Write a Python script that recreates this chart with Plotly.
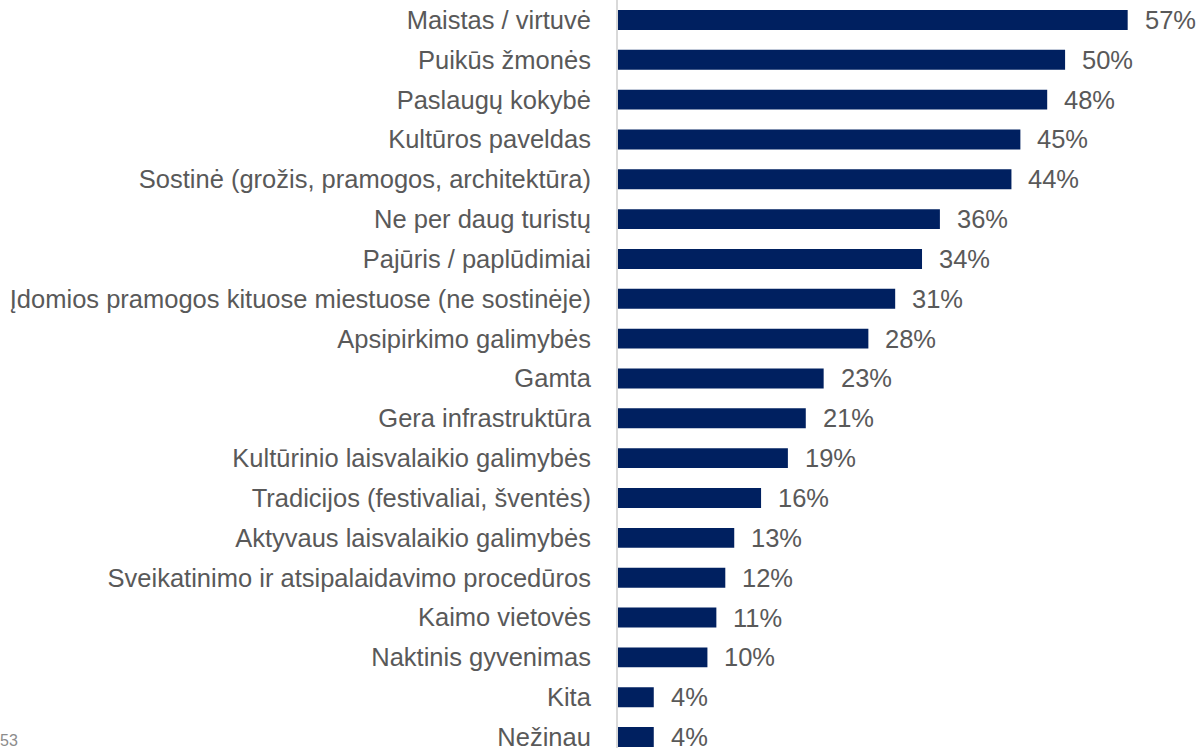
import plotly.graph_objects as go

categories = [
    "Maistas / virtuvė",
    "Puikūs žmonės",
    "Paslaugų kokybė",
    "Kultūros paveldas",
    "Sostinė (grožis, pramogos, architektūra)",
    "Ne per daug turistų",
    "Pajūris / paplūdimiai",
    "Įdomios pramogos kituose miestuose (ne sostinėje)",
    "Apsipirkimo galimybės",
    "Gamta",
    "Gera infrastruktūra",
    "Kultūrinio laisvalaikio galimybės",
    "Tradicijos (festivaliai, šventės)",
    "Aktyvaus laisvalaikio galimybės",
    "Sveikatinimo ir atsipalaidavimo procedūros",
    "Kaimo vietovės",
    "Naktinis gyvenimas",
    "Kita",
    "Nežinau",
]
values = [57, 50, 48, 45, 44, 36, 34, 31, 28, 23, 21, 19, 16, 13, 12, 11, 10, 4, 4]
page_number = "53"

BAR = "#002060"
TEXT = "#595959"
FONT = "Liberation Sans, Arial, sans-serif"
SIZE = 25.5

fig = go.Figure(
    go.Bar(
        x=values,
        y=categories,
        orientation="h",
        marker=dict(color=BAR, line=dict(width=0)),
        width=0.5,
        hoverinfo="skip",
    )
)

# value labels just past the end of each bar
for cat, v in zip(categories, values):
    fig.add_annotation(
        x=v, y=cat, text=f"{v}%", showarrow=False,
        xanchor="left", yanchor="middle", xshift=15,
        font=dict(family=FONT, size=SIZE, color=TEXT),
    )

# page number in the bottom-left corner
fig.add_annotation(
    x=0, y=0, xref="paper", yref="paper", text=page_number, showarrow=False,
    xanchor="left", yanchor="bottom", xshift=-620, yshift=-3,
    font=dict(family=FONT, size=16, color="#8c8c8c"),
)

fig.update_layout(
    width=1201, height=751,
    margin=dict(l=618, r=0, t=0, b=0),
    paper_bgcolor="white", plot_bgcolor="white",
    showlegend=False,
    font=dict(family=FONT, size=SIZE, color=TEXT),
    xaxis=dict(range=[0, 65.2], visible=False),
    yaxis=dict(
        type="category",
        range=[18.275, -0.5],
        showline=True, linecolor="#d9d9d9", linewidth=2,
        ticks="", showgrid=False, zeroline=False,
        tickfont=dict(family=FONT, size=SIZE, color=TEXT),
        ticklabelstandoff=20,
    ),
)

fig.write_html("out.html")
